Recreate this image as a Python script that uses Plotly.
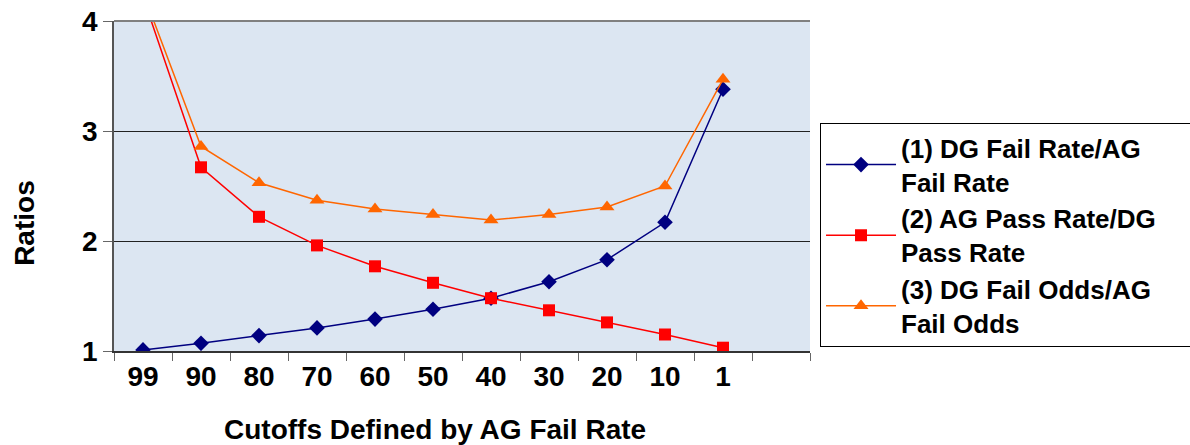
import plotly.graph_objects as go

categories = ["99", "90", "80", "70", "60", "50", "40", "30", "20", "10", "1"]
all_slots = categories + [" "]
dg_fail_ratio = [1.01, 1.07, 1.14, 1.21, 1.29, 1.38, 1.48, 1.63, 1.83, 2.17, 3.38]
ag_pass_ratio = [4.22, 2.67, 2.22, 1.96, 1.77, 1.62, 1.48, 1.37, 1.26, 1.15, 1.03]
odds_ratio = [4.26, 2.86, 2.53, 2.37, 2.29, 2.24, 2.19, 2.24, 2.31, 2.50, 3.47]
names = ["(1) DG Fail Rate/AG<br>Fail Rate",
         "(2) AG Pass Rate/DG&nbsp;&nbsp;&nbsp;&nbsp;&nbsp;&nbsp;<br>Pass Rate",
         "(3) DG Fail Odds/AG<br>Fail Odds"]

FONT = "Liberation Sans, Arial, sans-serif"

fig = go.Figure()
fig.add_trace(go.Scatter(x=categories, y=dg_fail_ratio, name=names[0], mode="lines+markers",
                         line=dict(color="#000080", width=1.5),
                         marker=dict(symbol="diamond", size=12, color="#000080")))
fig.add_trace(go.Scatter(x=categories, y=ag_pass_ratio, name=names[1], mode="lines+markers",
                         line=dict(color="#ff0000", width=1.5),
                         marker=dict(symbol="square", size=12, color="#ff0000")))
fig.add_trace(go.Scatter(x=categories, y=odds_ratio, name=names[2], mode="lines+markers",
                         line=dict(color="#ff6600", width=1.5),
                         marker=dict(symbol="triangle-up", size=13, color="#ff6600")))

fig.update_layout(
    width=1190, height=445,
    margin=dict(l=114, r=380, t=21, b=94, autoexpand=False),
    paper_bgcolor="white", plot_bgcolor="#dce6f2",
    font=dict(family=FONT, size=28, color="black"),
    showlegend=True,
    legend=dict(x=1.0144, y=0.69, xanchor="left", yanchor="top",
                bordercolor="black", borderwidth=1, bgcolor="white",
                font=dict(family=FONT, size=26, color="black", weight="bold"),
                tracegroupgap=0, itemwidth=70),
    xaxis=dict(type="category", categoryorder="array", categoryarray=all_slots,
               range=[-0.5, 11.5], showgrid=False, showline=True, linecolor="#333333",
               linewidth=1.5, ticks="outside", ticklen=8, tickcolor="#666666",
               tickson="boundaries", tickfont=dict(family=FONT, size=28, weight="bold"),
               zeroline=False, fixedrange=True),
    yaxis=dict(range=[1, 4], tickvals=[1, 2, 3, 4], showgrid=True, gridcolor="#222222",
               gridwidth=1, showline=True, linecolor="#555555", linewidth=1.5,
               ticks="outside", ticklen=9, tickcolor="#666666",
               tickfont=dict(family=FONT, size=28, weight="bold"),
               zeroline=False, fixedrange=True),
    shapes=[dict(type="line", xref="paper", yref="paper", x0=0, x1=1, y0=1, y1=1,
                 line=dict(color="#808080", width=2))],
    annotations=[
        dict(text="<b>Cutoffs Defined by AG Fail Rate</b>", xref="paper", yref="paper",
             x=0.461, y=-0.239, xanchor="center", yanchor="middle", showarrow=False,
             font=dict(family=FONT, size=28)),
        dict(text="<b>Ratios</b>", xref="paper", yref="paper", textangle=-90,
             x=-0.129, y=0.389, xanchor="center", yanchor="middle", showarrow=False,
             font=dict(family=FONT, size=28)),
    ],
)

fig.write_html("out.html", config={"displayModeBar": False},
               post_script="document.body.style.margin='0';document.body.style.overflow='hidden';")
